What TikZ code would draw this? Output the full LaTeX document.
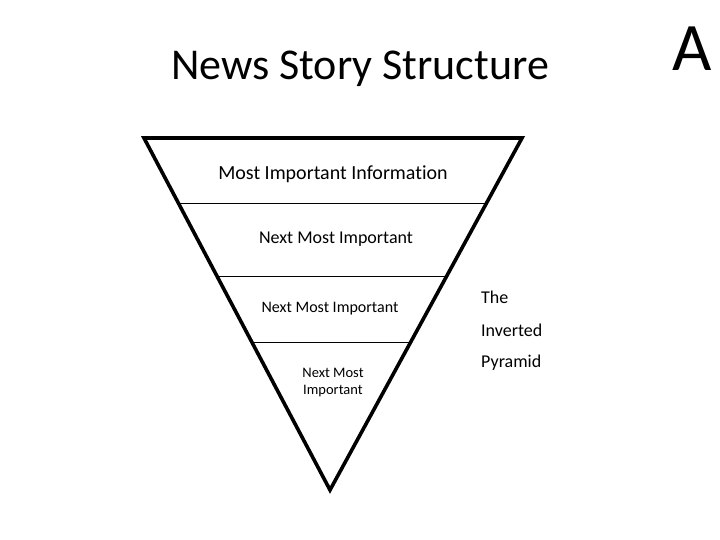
\documentclass[tikz,border=0pt]{standalone}
\usepackage{fontspec}
\setmainfont[Ligatures=NoCommon]{Carlito}
\usetikzlibrary{positioning,calc}

\begin{document}
\begin{tikzpicture}[x=1pt,y=-1pt,
        layer/.style={line width=0.9pt},
        pyramid/.style={line width=3.6pt,line join=miter},
        tier/.style={inner sep=0pt,align=center}]
        \useasboundingbox (0,0) rectangle (720,540);

        % Title and corner letter
        \node[tier,font=\fontsize{44}{52}\selectfont] (title) at (360,69) {News Story Structure};
        \node[tier,font=\fontsize{68}{80}\selectfont] (letter) at (692,49) {A};

        % Corners of the pyramid
        \coordinate (topLeft) at (144,138);
        \coordinate (topRight) at (522,138);
        \coordinate (tip) at (330,490);

        % Pyramid outline
        \draw[pyramid] (topLeft) -- (topRight) -- (tip) -- cycle;

        % Dividing lines between tiers
        \draw[layer] ($(topLeft)!0.185!(tip)$) -- ($(topRight)!0.185!(tip)$);
        \draw[layer] ($(topLeft)!0.392!(tip)$) -- ($(topRight)!0.392!(tip)$);
        \draw[layer] ($(topLeft)!0.582!(tip)$) -- ($(topRight)!0.582!(tip)$);

        % Tier labels
        \node[tier,font=\fontsize{20}{24}\selectfont] (tierOne) at (333,174) {Most Important Information};
        \node[tier,font=\fontsize{18}{22}\selectfont] (tierTwo) at (336,239) {Next Most Important};
        \node[tier,font=\fontsize{16}{20}\selectfont] (tierThree) at (330,309) {Next Most Important};
        \node[tier,font=\fontsize{14.5}{17}\selectfont] (tierFour) at (333,383) {Next Most\\Important};

        % Side caption
        \node[tier,anchor=west,font=\fontsize{18}{22}\selectfont] (capOne) at (481,297) {The};
        \node[tier,anchor=west,font=\fontsize{18}{22}\selectfont] (capTwo) at (481,330) {Inverted};
        \node[tier,anchor=west,font=\fontsize{18}{22}\selectfont] (capThree) at (481,363) {Pyramid};
    \end{tikzpicture}
\end{document}
